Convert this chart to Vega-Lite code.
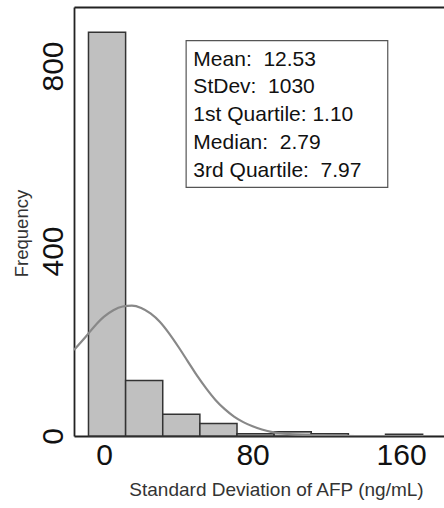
{
  "$schema": "https://vega.github.io/schema/vega-lite/v6.json",
  "width": 370,
  "height": 429,
  "autosize": {"type": "none"},
  "padding": {"left": 74, "top": 7, "right": 0, "bottom": 72},
  "background": "white",
  "config": {
    "view": {"stroke": null},
    "font": "Liberation Sans",
    "axis": {
      "grid": false,
      "domainColor": "#222222",
      "domainWidth": 1.8,
      "labelColor": "#111111",
      "titleColor": "#333333",
      "labelFont": "Liberation Sans",
      "titleFont": "Liberation Sans",
      "titleFontWeight": "normal"
    }
  },
  "layer": [
    {
      "data": {
        "values": [
          {"start": -8.4, "end": 11.6, "count": 873},
          {"start": 11.6, "end": 31.6, "count": 120},
          {"start": 31.6, "end": 51.6, "count": 47},
          {"start": 51.6, "end": 71.6, "count": 27},
          {"start": 71.6, "end": 91.6, "count": 5},
          {"start": 91.6, "end": 111.6, "count": 9},
          {"start": 111.6, "end": 131.6, "count": 5},
          {"start": 131.6, "end": 151.6, "count": 0},
          {"start": 151.6, "end": 171.6, "count": 4}
        ]
      },
      "mark": {"type": "rect", "fill": "#c0c0c0", "stroke": "#333333", "strokeWidth": 1.5},
      "encoding": {
        "x": {
          "field": "start",
          "type": "quantitative",
          "scale": {"domain": [-16.2, 183.1], "nice": false, "zero": false},
          "axis": {
            "orient": "bottom",
            "values": [0, 80, 160],
            "ticks": false,
            "labelFontSize": 30,
            "labelPadding": 4,
            "title": "Standard Deviation of AFP (ng/mL)",
            "titleFontSize": 19,
            "titlePadding": 10,
            "titleX": 202
          }
        },
        "x2": {"field": "end"},
        "y": {
          "field": "count",
          "type": "quantitative",
          "scale": {"domain": [0, 927.6], "nice": false, "zero": true},
          "axis": {
            "orient": "left",
            "values": [0, 400, 800],
            "ticks": false,
            "labelAngle": -90,
            "labelFontSize": 30,
            "labelPadding": 6,
            "title": "Frequency",
            "titleFontSize": 18.5,
            "titlePadding": 7,
            "titleY": 226
          }
        },
        "y2": {"datum": 0}
      }
    },
    {
      "data": {
        "values": [
          {"x": -16.2, "density": 186},
          {"x": -10, "density": 214},
          {"x": -5, "density": 238},
          {"x": 0, "density": 258},
          {"x": 5, "density": 272},
          {"x": 10, "density": 280},
          {"x": 15, "density": 282},
          {"x": 20, "density": 277},
          {"x": 25, "density": 265},
          {"x": 30, "density": 247},
          {"x": 35, "density": 222},
          {"x": 40, "density": 193},
          {"x": 45, "density": 162},
          {"x": 50, "density": 131},
          {"x": 55, "density": 103},
          {"x": 60, "density": 78},
          {"x": 65, "density": 58},
          {"x": 70, "density": 42},
          {"x": 75, "density": 30},
          {"x": 80, "density": 21},
          {"x": 85, "density": 14},
          {"x": 90, "density": 9},
          {"x": 95, "density": 6},
          {"x": 100, "density": 4},
          {"x": 110, "density": 2},
          {"x": 120, "density": 1},
          {"x": 140, "density": 0},
          {"x": 183.1, "density": 0}
        ]
      },
      "mark": {"type": "line", "interpolate": "monotone", "stroke": "#888888", "strokeWidth": 2.2, "clip": true},
      "encoding": {
        "x": {
          "field": "x",
          "type": "quantitative",
          "axis": {"orient": "top", "labels": false, "ticks": false, "title": null}
        },
        "y": {"field": "density", "type": "quantitative", "axis": null}
      }
    },
    {
      "data": {"values": [{}]},
      "mark": {"type": "rect", "fill": "white", "stroke": "#555555", "strokeWidth": 1.2},
      "encoding": {
        "x": {"datum": 44.2, "type": "quantitative", "axis": null},
        "x2": {"datum": 152.8},
        "y": {"datum": 854.7, "type": "quantitative", "axis": null},
        "y2": {"datum": 537.7}
      }
    },
    {
      "data": {"values": [{}]},
      "mark": {
        "type": "text",
        "align": "left",
        "baseline": "alphabetic",
        "fontSize": 21,
        "lineHeight": 27.7,
        "font": "Liberation Sans",
        "color": "#111111"
      },
      "encoding": {
        "x": {"datum": 48.1, "type": "quantitative", "axis": null},
        "y": {"datum": 800.6, "type": "quantitative", "axis": null},
        "text": {"value": ["Mean:\u00a0 12.53", "StDev:\u00a0 1030", "1st Quartile: 1.10", "Median:\u00a0 2.79", "3rd Quartile:\u00a0 7.97"]}
      }
    }
  ],
  "resolve": {"axis": {"x": "independent", "y": "independent"}}
}
